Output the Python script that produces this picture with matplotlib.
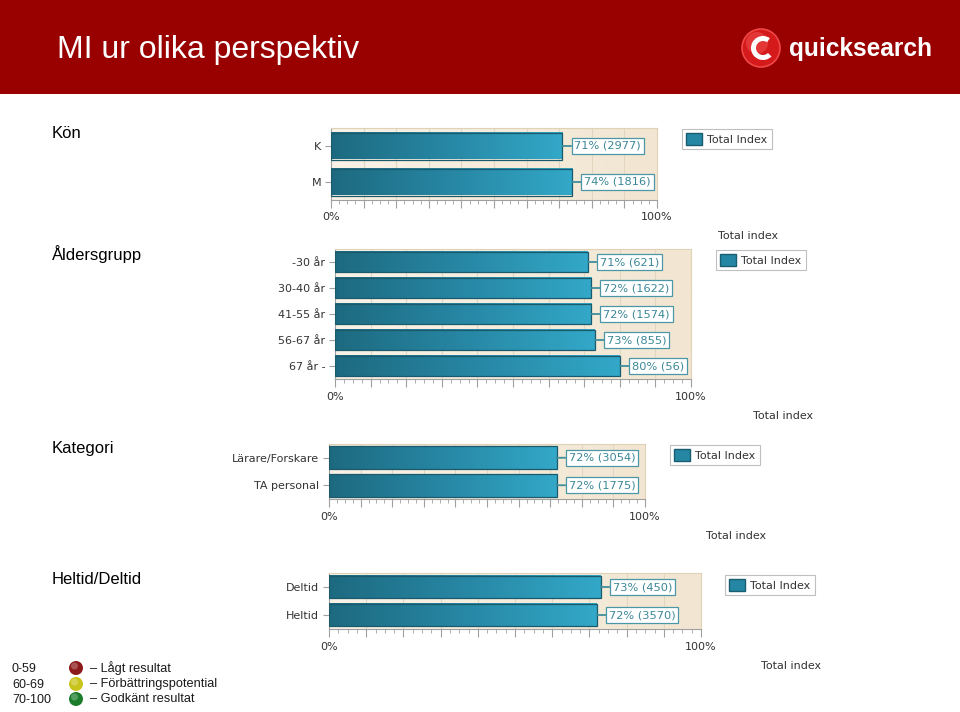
import matplotlib
matplotlib.use('Agg')
import matplotlib.pyplot as plt
import numpy as np
from matplotlib.patches import Rectangle, Circle, Patch, Wedge
from matplotlib.colors import LinearSegmentedColormap

W, H = 960, 712

# ---------------- data ----------------
kon_cats = ['K', 'M']
kon_vals = [71, 74]
kon_n = [2977, 1816]

age_cats = ['-30 år', '30-40 år', '41-55 år', '56-67 år', '67 år -']
age_vals = [71, 72, 72, 73, 80]
age_n = [621, 1622, 1574, 855, 56]

kat_cats = ['Lärare/Forskare', 'TA personal']
kat_vals = [72, 72]
kat_n = [3054, 1775]

tid_cats = ['Deltid', 'Heltid']
tid_vals = [73, 72]
tid_n = [450, 3570]

page_title = 'MI ur olika perspektiv'
logo_text = 'quicksearch'
section_titles = ['Kön', 'Åldersgrupp', 'Kategori', 'Heltid/Deltid']
series_name = 'Total Index'
axis_title = 'Total index'
tick_labels = ['0%'] + [''] * 9 + ['100%']
scale_ranges = ['0-59', '60-69', '70-100']
scale_texts = ['– Lågt resultat', '– Förbättringspotential', '– Godkänt resultat']

# ---------------- styling ----------------
bar_cmap = LinearSegmentedColormap.from_list('bar', ['#1d6a80', '#2787a4', '#33a8c8'])
bg_cmap = LinearSegmentedColormap.from_list('bg', ['#f8f2e7', '#f5ecdc', '#f2e6d2'])
grad = np.linspace(0, 1, 256).reshape(1, -1)

fig = plt.figure(figsize=(W / 100, H / 100), dpi=100)
fig.patch.set_facecolor('white')

bg = fig.add_axes([0, 0, 1, 1], zorder=-1)
bg.set_xlim(0, W)
bg.set_ylim(H, 0)
bg.axis('off')

# header
bg.add_patch(Rectangle((0, 0), W, 94, color='#990000', lw=0))
bg.text(57, 50, page_title, color='white', fontsize=23, va='center', ha='left',
        family=['Liberation Sans', 'DejaVu Sans'])
# logo
bg.add_patch(Circle((761, 48), 19, fc='#d41a1a', ec='#f04848', lw=1.2))
bg.add_patch(Circle((757, 43), 11, fc='#ee4a4a', ec='none', alpha=0.6))
bg.add_patch(Wedge((763, 48), 12, 45, 305, width=5, fc='white', ec='none'))
logo = bg.text(789, 49, logo_text, color='white', fontsize=22, fontweight='bold', va='center', ha='left',
               family=['Liberation Sans Narrow', 'Liberation Sans', 'DejaVu Sans'])
fig.canvas.draw()
lw_px = logo.get_window_extent().width
logo.set_fontsize(22 * 143 / lw_px)


def px_axes(x0, y0, x1, y1):
    return fig.add_axes([x0 / W, 1 - y1 / H, (x1 - x0) / W, (y1 - y0) / H])


def draw_chart(box, cats, vals, ns, bar_h, leg_xy, title_xy, sec_xy, sec_title):
    ax = px_axes(*box)
    n = len(cats)
    y = np.arange(n)
    ax.imshow(grad, extent=[0, 100, n - 0.5, -0.5], aspect='auto', cmap=bg_cmap,
              zorder=0, interpolation='bilinear')
    for gx in range(10, 100, 10):
        ax.axvline(gx, color='#e2d6c0', lw=0.8, zorder=1)
    bars = ax.barh(y, vals, height=bar_h, color='none', edgecolor='#1a5a6c', lw=0.9, zorder=4)
    for b in bars:
        x0, y0 = b.get_x(), b.get_y()
        w, h = b.get_width(), b.get_height()
        ax.imshow(grad, extent=[x0, x0 + w, y0 + h, y0], aspect='auto', cmap=bar_cmap,
                  zorder=3, interpolation='bilinear')
    for yi, v, nn in zip(y, vals, ns):
        ax.annotate(f'{v}% ({nn})', xy=(v, yi), xytext=(12, 0), textcoords='offset pixels',
                    va='center', ha='left', fontsize=8.2, color='#3a8797',
                    bbox=dict(boxstyle='square,pad=0.25', fc='white', ec='#4b97a5', lw=0.9),
                    arrowprops=dict(arrowstyle='-', color='#3f8e9c', lw=1.3, shrinkA=0, shrinkB=0),
                    zorder=5, annotation_clip=False)
    ax.set_xlim(0, 100)
    ax.set_ylim(n - 0.5, -0.5)
    ax.set_xticks(np.arange(0, 101, 10))
    ax.set_xticklabels(tick_labels)
    ax.set_xticks(np.arange(0, 101, 2.5), minor=True)
    ax.tick_params(axis='x', which='major', length=6, color='#a0a0a0', labelsize=8,
                   labelcolor='#333333', pad=3)
    ax.tick_params(axis='x', which='minor', length=3, color='#a0a0a0')
    ax.set_yticks(y)
    ax.set_yticklabels(cats)
    ax.tick_params(axis='y', length=4, color='#a0a0a0', labelsize=8, labelcolor='#333333', pad=3)
    for s in ['left', 'bottom']:
        ax.spines[s].set_color('#a0a0a0')
    for s in ['top', 'right']:
        ax.spines[s].set_color('#e0d2b6')
    handle = Patch(facecolor='#2687a4', edgecolor='#1a5d70')
    leg = ax.legend([handle], [series_name], loc='upper left',
                    bbox_to_anchor=(leg_xy[0] / W, 1 - leg_xy[1] / H), bbox_transform=fig.transFigure,
                    frameon=True, fancybox=False, edgecolor='#b0b0b0', fontsize=8, borderpad=0.38,
                    handlelength=1.4, handleheight=1.2, handletextpad=0.5, borderaxespad=0)
    leg.get_frame().set_linewidth(0.8)
    for t in leg.get_texts():
        t.set_color('#333333')
    fig.text(title_xy[0] / W, 1 - title_xy[1] / H, axis_title, ha='center', va='center',
             fontsize=8, color='#333333')
    fig.text(sec_xy[0] / W, 1 - sec_xy[1] / H, sec_title, ha='left', va='center', fontsize=12,
             color='black', family=['Liberation Sans', 'DejaVu Sans'])
    return ax


draw_chart((331, 128, 657, 200), kon_cats, kon_vals, kon_n, 0.75, (682, 129), (748, 236), (52, 133), section_titles[0])
draw_chart((335, 249, 691, 379), age_cats, age_vals, age_n, 0.8, (716, 250), (783, 416), (52, 254), section_titles[1])
draw_chart((329, 444, 645, 499), kat_cats, kat_vals, kat_n, 0.82, (670, 445), (736, 536), (52, 449), section_titles[2])
draw_chart((329, 573, 701, 629), tid_cats, tid_vals, tid_n, 0.79, (725, 575), (791, 666), (52, 579), section_titles[3])

# bottom scale legend
scale_y = [669, 685, 700]
scale_colors = ['#8c1b1b', '#c9c41c', '#1b7d2c']
for yy, r, c, t in zip(scale_y, scale_ranges, scale_colors, scale_texts):
    bg.text(12, yy, r, fontsize=9, color='#1a1a1a', va='center', ha='left',
            family=['Liberation Sans', 'DejaVu Sans'])
    bg.add_patch(Circle((76, yy - 1), 7, fc=c, ec='none'))
    bg.add_patch(Circle((74.5, yy - 3), 3.5, fc='white', ec='none', alpha=0.25))
    bg.text(90, yy - 1, t, fontsize=9.2, color='#1a1a1a', va='center', ha='left',
            family=['Liberation Sans', 'DejaVu Sans'])

fig.savefig('out.png', dpi=100)
